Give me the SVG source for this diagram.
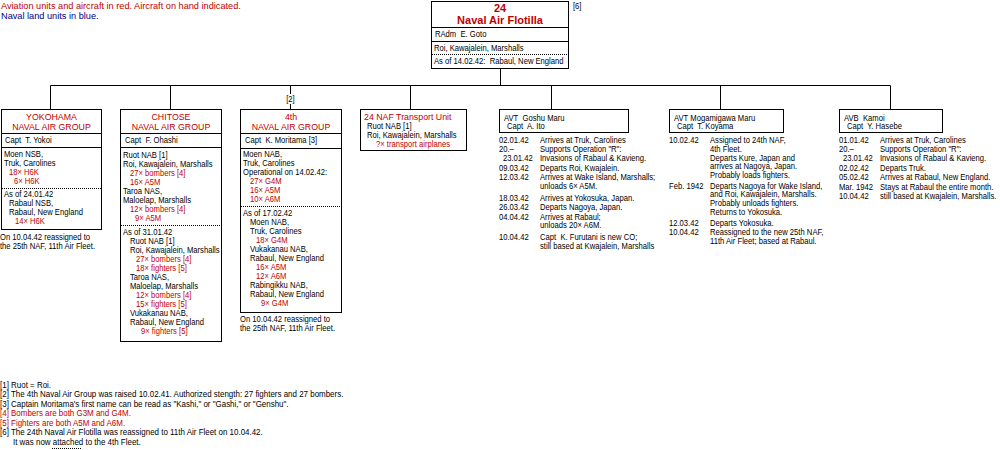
<svg xmlns="http://www.w3.org/2000/svg" width="1000" height="450" viewBox="0 0 1000 450">
<style>
text{font-family:"Liberation Sans",Arial,sans-serif;fill:#000}
.t{font-size:8.5px;transform-box:fill-box;transform-origin:0 0;transform:scaleX(0.9)}
.f{font-size:8.85px;transform-box:fill-box;transform-origin:0 0;transform:scaleX(0.9)}
.lg{font-size:9.2px}
.tc{font-size:8.5px;text-anchor:middle;transform-box:fill-box;transform-origin:50% 0;transform:scaleX(0.9)}
.h{font-size:8.8px;fill:#c00000}
.hc{font-size:8.8px;fill:#c00000;text-anchor:middle}
.bt{font-size:11px;font-weight:bold;fill:#c00000;text-anchor:middle}
.r{fill:#c00000}
.n{fill:#000080}
.box{fill:#fff;stroke:#000;stroke-width:1}
.ln{stroke:#000;stroke-width:1;fill:none}
.dot{stroke:#000;stroke-width:1;stroke-dasharray:1 1;fill:none}
</style>
<rect width="1000" height="450" fill="#fff"/>

<g id="legend">
<text class="lg r" x="1" y="9">Aviation units and aircraft in red. Aircraft on hand indicated.</text>
<text class="lg n" x="1" y="19">Naval land units in blue.</text>
</g>

<g id="connectors">
<path class="ln" d="M500.5 68.5V85.5M50.5 85.5H890.5M50.5 85.5V109.5M170.5 85.5V109.5M290.5 85.5V94M290.5 104V109.5M410.5 85.5V109.5M551.5 85.5V109.5M720.5 85.5V109.5M890.5 85.5V109.5"/>
<text class="tc" x="290.5" y="102.5">[2]</text>
</g>

<g id="flotilla">
<rect class="box" x="431.5" y="1.5" width="137" height="67"/>
<path class="ln" d="M431.5 27.5H568.5M431.5 41.5H568.5"/>
<path class="dot" d="M432 54.5H568"/>
<text class="bt" x="500" y="12">24</text>
<text class="bt" x="500" y="23.5">Naval Air Flotilla</text>
<text class="t" x="435" y="37.5">RAdm&#160; E. Goto</text>
<text class="t" x="434" y="51">Roi, Kawajalein, Marshalls</text>
<text class="t" x="434" y="64.5">As of 14.02.42:&#160; Rabaul, New England</text>
<text class="t" x="573" y="9">[6]</text>
</g>

<g id="yokohama">
<rect class="box" x="1.5" y="109.5" width="100" height="120"/>
<path class="ln" d="M1.5 133.5H101.5M1.5 147.5H101.5"/>
<path class="dot" d="M2 188.5H101"/>
<text class="hc" x="51.5" y="120">YOKOHAMA</text>
<text class="hc" x="51.5" y="130">NAVAL AIR GROUP</text>
<text class="t" x="5" y="143">Capt&#160; T. Yokoi</text>
<text class="t" x="4" y="157">Moen NSB,</text>
<text class="t" x="4" y="166">Truk, Carolines</text>
<text class="t r" x="9" y="175">18× H6K</text>
<text class="t r" x="14" y="184">6× H6K</text>
<text class="t" x="4" y="197">As of 24.01.42</text>
<text class="t" x="9" y="206">Rabaul NSB,</text>
<text class="t" x="9" y="215">Rabaul, New England</text>
<text class="t r" x="15" y="224">14× H6K</text>
<text class="t" x="0" y="240">On 10.04.42 reassigned to</text>
<text class="t" x="0" y="249">the 25th NAF, 11th Air Fleet.</text>
</g>

<g id="chitose">
<rect class="box" x="120.5" y="109.5" width="101" height="232"/>
<path class="ln" d="M120.5 133.5H221.5M120.5 147.5H221.5"/>
<path class="dot" d="M121 225.5H221"/>
<text class="hc" x="171" y="120">CHITOSE</text>
<text class="hc" x="171" y="130">NAVAL AIR GROUP</text>
<text class="t" x="125" y="143">Capt&#160; F. Ohashi</text>
<text class="t" x="123" y="158">Ruot NAB [1]</text>
<text class="t" x="123" y="167">Roi, Kawajalein, Marshalls</text>
<text class="t r" x="130" y="176">27× bombers [4]</text>
<text class="t r" x="130" y="185">16× A5M</text>
<text class="t" x="123" y="194">Taroa NAS,</text>
<text class="t" x="123" y="203">Maloelap, Marshalls</text>
<text class="t r" x="130" y="212">12× bombers [4]</text>
<text class="t r" x="135" y="221">9× A5M</text>
<text class="t" x="123" y="235">As of 31.01.42</text>
<text class="t" x="130" y="244">Ruot NAB [1]</text>
<text class="t" x="130" y="253">Roi, Kawajalein, Marshalls</text>
<text class="t r" x="136" y="262">27× bombers [4]</text>
<text class="t r" x="136" y="271">18× fighters [5]</text>
<text class="t" x="130" y="280">Taroa NAS,</text>
<text class="t" x="130" y="289">Maloelap, Marshalls</text>
<text class="t r" x="136" y="298">12× bombers [4]</text>
<text class="t r" x="136" y="307">15× fighters [5]</text>
<text class="t" x="130" y="316">Vukakanau NAB,</text>
<text class="t" x="130" y="325">Rabaul, New England</text>
<text class="t r" x="141" y="334">9× fighters [5]</text>
</g>

<g id="nag4">
<rect class="box" x="240.5" y="109.5" width="101" height="203"/>
<path class="ln" d="M240.5 133.5H341.5M240.5 148.5H341.5"/>
<path class="dot" d="M241 206.5H341"/>
<text class="hc" x="291" y="119.5">4th</text>
<text class="hc" x="291" y="129.5">NAVAL AIR GROUP</text>
<text class="t" x="245" y="143.5">Capt&#160; K. Moritama [3]</text>
<text class="t" x="243" y="157">Moen NAB,</text>
<text class="t" x="243" y="166">Truk, Carolines</text>
<text class="t" x="243" y="175">Operational on 14.02.42:</text>
<text class="t r" x="250" y="184">27× G4M</text>
<text class="t r" x="250" y="193">16× A5M</text>
<text class="t r" x="250" y="202">10× A6M</text>
<text class="t" x="243" y="216">As of 17.02.42</text>
<text class="t" x="250" y="225">Moen NAB,</text>
<text class="t" x="250" y="234">Truk, Carolines</text>
<text class="t r" x="256" y="243">18× G4M</text>
<text class="t" x="250" y="252">Vukakanau NAB,</text>
<text class="t" x="250" y="261">Rabaul, New England</text>
<text class="t r" x="256" y="270">16× A5M</text>
<text class="t r" x="256" y="279">12× A6M</text>
<text class="t" x="250" y="288">Rabingikku NAB,</text>
<text class="t" x="250" y="297">Rabaul, New England</text>
<text class="t r" x="261" y="306">9× G4M</text>
<text class="t" x="240" y="322">On 10.04.42 reassigned to</text>
<text class="t" x="240" y="331">the 25th NAF, 11th Air Fleet.</text>
</g>

<g id="transport">
<rect class="box" x="360.5" y="109.5" width="106" height="41"/>
<text class="h" x="364" y="120">24 NAF Transport Unit</text>
<text class="t" x="367" y="129">Ruot NAB [1]</text>
<text class="t" x="367" y="138">Roi, Kawajalein, Marshalls</text>
<text class="t r" x="376" y="147">?× transport airplanes</text>
</g>

<g id="goshu">
<rect class="box" x="499.5" y="109.5" width="129" height="23"/>
<text class="t" x="504" y="121">AVT&#160; Goshu Maru</text>
<text class="t" x="507" y="129.5">Capt&#160; A. Ito</text>
<text class="t" x="499" y="143">02.01.42</text><text class="t" x="540" y="143">Arrives at Truk, Carolines</text>
<text class="t" x="499" y="152.5">20.–</text><text class="t" x="540" y="152.5">Supports Operation "R":</text>
<text class="t" x="503" y="161.3">23.01.42</text><text class="t" x="540" y="161.3">Invasions of Rabaul &amp; Kavieng.</text>
<text class="t" x="499" y="170.8">09.03.42</text><text class="t" x="540" y="170.8">Departs Roi, Kwajalein.</text>
<text class="t" x="499" y="180.3">12.03.42</text><text class="t" x="540" y="180.3">Arrives at Wake Island, Marshalls;</text>
<text class="t" x="540" y="189.1">unloads 6× A5M.</text>
<text class="t" x="499" y="200.6">18.03.42</text><text class="t" x="540" y="200.6">Arrives at Yokosuka, Japan.</text>
<text class="t" x="499" y="210.1">26.03.42</text><text class="t" x="540" y="210.1">Departs Nagoya, Japan.</text>
<text class="t" x="499" y="219.6">04.04.42</text><text class="t" x="540" y="219.6">Arrives at Rabaul;</text>
<text class="t" x="540" y="228.4">unloads 20× A6M.</text>
<text class="t" x="499" y="239.9">10.04.42</text><text class="t" x="540" y="239.9">Capt&#160; K. Furutani is new CO;</text>
<text class="t" x="540" y="248.7">still based at Kwajalein, Marshalls</text>
</g>

<g id="mogamigawa">
<rect class="box" x="669.5" y="109.5" width="114" height="23"/>
<text class="t" x="674" y="121">AVT Mogamigawa Maru</text>
<text class="t" x="677" y="129.5">Capt&#160; T. Koyama</text>
<text class="t" x="669" y="143">10.02.42</text><text class="t" x="710" y="143">Assigned to 24th NAF,</text>
<text class="t" x="710" y="151.8">4th Fleet.</text>
<text class="t" x="710" y="160.6">Departs Kure, Japan and</text>
<text class="t" x="710" y="169.4">arrives at Nagoya, Japan.</text>
<text class="t" x="710" y="178.2">Probably loads fighters.</text>
<text class="t" x="669" y="188.7">Feb. 1942</text><text class="t" x="710" y="188.7">Departs Nagoya for Wake Island,</text>
<text class="t" x="710" y="197.5">and Roi, Kawajalein, Marshalls.</text>
<text class="t" x="710" y="206.3">Probably unloads fighters.</text>
<text class="t" x="710" y="215.1">Returns to Yokosuka.</text>
<text class="t" x="669" y="225.6">12.03.42</text><text class="t" x="710" y="225.6">Departs Yokosuka.</text>
<text class="t" x="669" y="235.1">10.04.42</text><text class="t" x="710" y="235.1">Reassigned to the new 25th NAF,</text>
<text class="t" x="710" y="243.9">11th Air Fleet; based at Rabaul.</text>
</g>

<g id="kamoi">
<rect class="box" x="839.5" y="109.5" width="103" height="23"/>
<text class="t" x="844" y="121">AVB&#160; Kamoi</text>
<text class="t" x="847" y="129.5">Capt&#160; Y. Hasebe</text>
<text class="t" x="839" y="143">01.01.42</text><text class="t" x="880" y="143">Arrives at Truk, Carolines</text>
<text class="t" x="839" y="152.5">20.–</text><text class="t" x="880" y="152.5">Supports Operation "R":</text>
<text class="t" x="843" y="161.3">23.01.42</text><text class="t" x="880" y="161.3">Invasions of Rabaul &amp; Kavieng.</text>
<text class="t" x="839" y="170.8">02.02.42</text><text class="t" x="880" y="170.8">Departs Truk.</text>
<text class="t" x="839" y="180.3">05.02.42</text><text class="t" x="880" y="180.3">Arrives at Rabaul, New England.</text>
<text class="t" x="839" y="189.8">Mar. 1942</text><text class="t" x="880" y="189.8">Stays at Rabaul the entire month.</text>
<text class="t" x="839" y="199.3">10.04.42</text><text class="t" x="880" y="199.3">still based at Kwajalein, Marshalls.</text>
</g>

<g id="footnotes">
<text class="f" x="0" y="388">[1] Ruot = Roi.</text>
<text class="f" x="0" y="397.5">[2] The 4th Naval Air Group was raised 10.02.41. Authorized stength: 27 fighters and 27 bombers.</text>
<text class="f" x="0" y="407">[3] Captain Moritama's first name can be read as "Kashi," or "Gashi," or "Genshu".</text>
<text class="f r" x="0" y="416.5">[4] Bombers are both G3M and G4M.</text>
<text class="f r" x="0" y="426">[5] Fighters are both A5M and A6M.</text>
<text class="f" x="0" y="435.5">[6] The 24th Naval Air Flotilla was reassigned to 11th Air Fleet on 10.04.42.</text>
<text class="f" x="13" y="445">It was now attached to the 4th Fleet.</text>
<path class="dot" d="M52 448.5H82"/>
</g>
</svg>
